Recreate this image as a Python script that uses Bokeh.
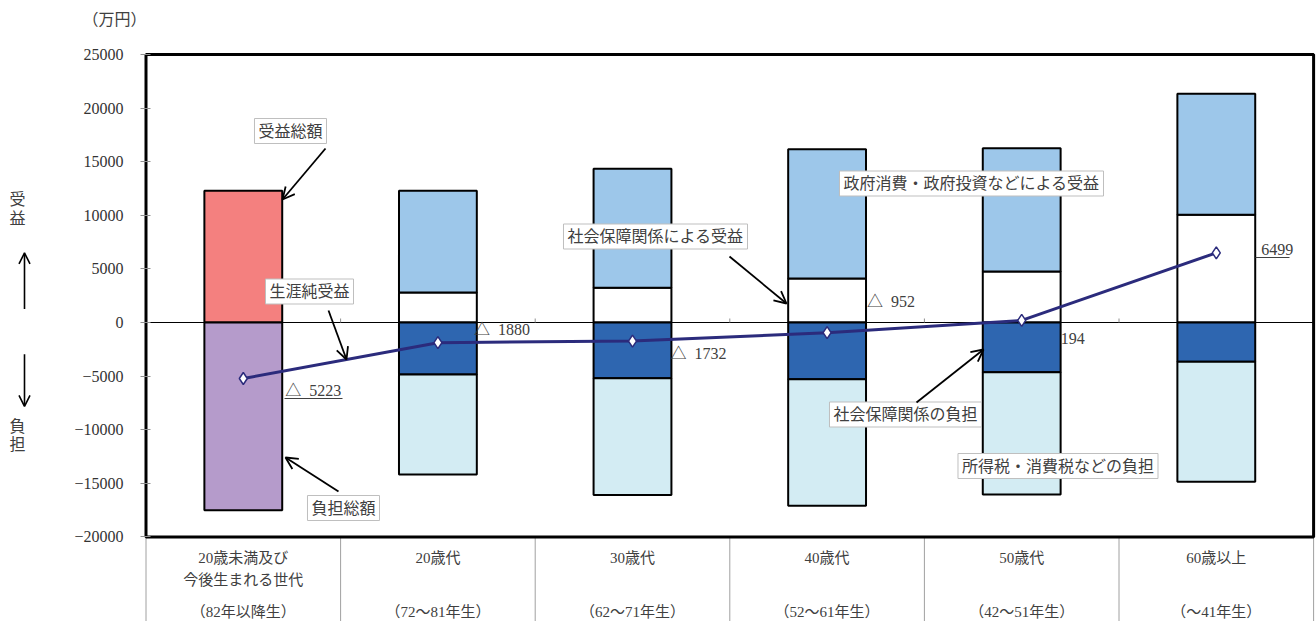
import numpy as np
from bokeh.plotting import figure
from bokeh.models import ColumnDataSource, Range1d, FixedTicker, Label, Arrow, OpenHead
from bokeh.layouts import row, column
from bokeh.core.properties import value
from bokeh.embed import file_html
from bokeh.resources import INLINE

# ---------------- data ----------------
cat_line1 = ["20歳未満及び", "20歳代", "30歳代", "40歳代", "50歳代", "60歳以上"]
cat_line2 = ["今後生まれる世代", "", "", "", "", ""]
birth_years = ["（82年以降生）", "（72～81年生）", "（62～71年生）",
               "（52～61年生）", "（42～51年生）", "（～41年生）"]

# first generation: totals only
future_benefit_total = [12300]
future_burden_total = [17523]

# other generations (20歳代 .. 60歳以上)
gov_benefit = [9500, 11100, 12050, 11500, 11300]      # 政府消費・政府投資などによる受益
social_benefit = [2800, 3250, 4100, 4750, 10050]      # 社会保障関係による受益
social_burden = [4850, 5200, 5300, 4650, 3650]        # 社会保障関係の負担
tax_burden = [9330, 10882, 11802, 11406, 11201]       # 所得税・消費税などの負担

net_benefit = [-5223, -1880, -1732, -952, 194, 6499]  # 生涯純受益

y_ticks = [-20000, -15000, -10000, -5000, 0, 5000, 10000, 15000, 20000, 25000]

# ---------------- style ----------------
FONT = "Liberation Serif, Noto Sans CJK JP"
TXT = "#404040"
NAVY = "#2B2B7C"
C_PINK = "#F4807F"
C_PURPLE = "#B59BCB"
C_GOV = "#9DC7EA"
C_SOC = "#FFFFFF"
C_SOCB = "#2E66B0"
C_TAX = "#D3ECF3"

# page-pixel helpers for annotation placement
X0, XW = 145.5, 194.6
Y0, YS = 322.0, 268.0 / 25000.0


def dx(px):
    return (px - X0) / XW


def dy(py):
    return (Y0 - py) / YS


n = len(cat_line1)
centers = np.arange(n) + 0.5
BW = 0.40

W = 1316
W_LEFT = 70
W_MAIN = W - W_LEFT
H = 621
H_TOP = 40
H_MAIN = H - H_TOP

p = figure(width=W_MAIN, height=H_MAIN,
           x_range=Range1d(dx(140), dx(1316)), y_range=Range1d(dy(621), dy(50)),
           x_axis_location=None, output_backend="svg", toolbar_location=None,
           min_border_left=70, min_border_right=0, min_border_top=50 - H_TOP,
           min_border_bottom=0)
p.grid.visible = False
p.outline_line_color = None
p.background_fill_color = "white"

ax = p.yaxis[0]
ax.ticker = FixedTicker(ticks=y_ticks)
ax.major_label_overrides = {t: str(t).replace("-", "−") for t in y_ticks}
ax.axis_line_color = None
ax.major_tick_in = 10
ax.major_tick_out = 0
ax.major_tick_line_color = "#909090"
ax.minor_tick_line_color = None
ax.major_label_standoff = 17
ax.major_label_text_font = FONT
ax.major_label_text_font_size = "16px"
ax.major_label_text_color = "#333333"

# table separators below the chart
p.segment(x0=list(range(n + 1)), y0=[y_ticks[0]] * (n + 1), x1=list(range(n + 1)),
          y1=[dy(621)] * (n + 1), line_color="#a0a0a0", line_width=1)

# first generation bars
p.vbar(x=centers[:1], top=future_benefit_total, bottom=0, width=BW,
       fill_color=C_PINK, line_color="black", line_width=2)
p.vbar(x=centers[:1], top=0, bottom=[-v for v in future_burden_total], width=BW,
       fill_color=C_PURPLE, line_color="black", line_width=2)

sb = np.array(social_benefit)
gb = np.array(gov_benefit)
sbd = np.array(social_burden)
tb = np.array(tax_burden)
src = ColumnDataSource(dict(x=centers[1:], sb=sb, top_b=sb + gb, sbd=-sbd, bot_b=-(sbd + tb),
                            zero=np.zeros(n - 1)))
p.vbar(x="x", bottom="zero", top="sb", width=BW, source=src,
       fill_color=C_SOC, line_color="black", line_width=2)
p.vbar(x="x", bottom="sb", top="top_b", width=BW, source=src,
       fill_color=C_GOV, line_color="black", line_width=2)
p.vbar(x="x", bottom="sbd", top="zero", width=BW, source=src,
       fill_color=C_SOCB, line_color="black", line_width=2)
p.vbar(x="x", bottom="bot_b", top="sbd", width=BW, source=src,
       fill_color=C_TAX, line_color="black", line_width=2)

# zero line and category ticks
p.segment(x0=[0], y0=[0], x1=[n], y1=[0], line_color="black", line_width=1)
p.segment(x0=list(range(1, n)), y0=[0] * (n - 1), x1=list(range(1, n)),
          y1=[dy(318)] * (n - 1), line_color="#909090", line_width=1)

# frame border
p.quad(left=[0], right=[n], bottom=[y_ticks[0]], top=[y_ticks[-1]],
       fill_color=None, line_color="black", line_width=3)

# net benefit line
p.line(x=centers, y=net_benefit, line_color=NAVY, line_width=3)
p.scatter(x=centers, y=net_benefit, marker="diamond", size=12,
          fill_color="white", line_color=NAVY, line_width=1.5)

NB = "\u00a0"
net_text = [("△" + NB * 2 + str(abs(v))) if v < 0 else str(v) for v in net_benefit]
lbl_src = ColumnDataSource(dict(x=centers, y=net_benefit, t=net_text,
                                xo=[42, 36, 38, 40, 39, 45], yo=[12, -13, 12, -31, 18, -3]))
p.text(x="x", y="y", text="t", x_offset="xo", y_offset="yo", source=lbl_src,
       text_font=value(FONT), text_font_size="16px", text_color=TXT,
       text_align="left", text_baseline="middle")
# underlines
p.segment(x0=[dx(284), dx(1255)], y0=[dy(398), dy(257)], x1=[dx(342), dx(1289)],
          y1=[dy(398), dy(257)], line_color=TXT, line_width=1)

# callout boxes
boxes = [("受益総額", 290, 130.5), ("生涯純受益", 309, 291), ("負担総額", 343, 507.5),
         ("社会保障関係による受益", 655, 236), ("政府消費・政府投資などによる受益", 971, 183),
         ("社会保障関係の負担", 905, 414), ("所得税・消費税などの負担", 1057.5, 465.5)]
for t, bx, by in boxes:
    p.add_layout(Label(x=dx(bx), y=dy(by), text=t, text_align="center", text_baseline="middle",
                       text_font=FONT, text_font_size="16px", text_color=TXT,
                       border_line_color="#bfbfbf", border_line_width=1,
                       background_fill_color="white", padding=4))

arrows = [((325, 148), (282, 199)), ((328, 310), (346, 359)), ((338, 491), (285, 457)),
          ((729, 256), (786, 303)), ((916, 402), (983, 349))]
for (sx, sy), (ex, ey) in arrows:
    p.add_layout(Arrow(end=OpenHead(size=12, line_width=1.8, line_color="black"),
                       x_start=dx(sx), y_start=dy(sy), x_end=dx(ex), y_end=dy(ey),
                       line_width=1.8, line_color="black"))

# table texts
p.text(x=centers, y=[dy(557)] * n, text=cat_line1, text_font=value(FONT), text_font_size="15px",
       text_color=TXT, text_align="center", text_baseline="middle")
p.text(x=centers, y=[dy(579)] * n, text=cat_line2, text_font=value(FONT), text_font_size="15px",
       text_color=TXT, text_align="center", text_baseline="middle")
p.text(x=centers, y=[dy(611)] * n, text=birth_years, text_font=value(FONT), text_font_size="15px",
       text_color=TXT, text_align="center", text_baseline="middle")

# left side strip with 受益 / 負担 arrows (y = -page_y)
lf = figure(width=W_LEFT, height=H_MAIN, x_range=Range1d(0, W_LEFT), y_range=Range1d(-H, -H_TOP),
            x_axis_location=None, y_axis_location=None, output_backend="svg",
            toolbar_location=None, min_border=0)
lf.grid.visible = False
lf.outline_line_color = None
lf.text(x=[17, 17, 17, 17], y=[-192, -211, -423, -441], text=["受", "益", "負", "担"],
        text_font=value(FONT), text_font_size="16px", text_color=TXT,
        text_align="center", text_baseline="middle")
lf.add_layout(Arrow(end=OpenHead(size=11, line_width=1.6, line_color="black"),
                    x_start=24, y_start=-303, x_end=24, y_end=-246, line_width=1.6))
lf.add_layout(Arrow(end=OpenHead(size=11, line_width=1.6, line_color="black"),
                    x_start=24, y_start=-349, x_end=24, y_end=-402, line_width=1.6))

# top strip with unit label
tf = figure(width=W, height=H_TOP, x_range=Range1d(0, W), y_range=Range1d(-H_TOP, 0),
            x_axis_location=None, y_axis_location=None, output_backend="svg",
            toolbar_location=None, min_border=0)
tf.grid.visible = False
tf.outline_line_color = None
tf.text(x=[114], y=[-19], text=["（万円）"], text_font=value(FONT), text_font_size="16px",
        text_color=TXT, text_align="center", text_baseline="middle")

layout = column(tf, row(lf, p))
open("out.html", "w").write(file_html(layout, INLINE))
